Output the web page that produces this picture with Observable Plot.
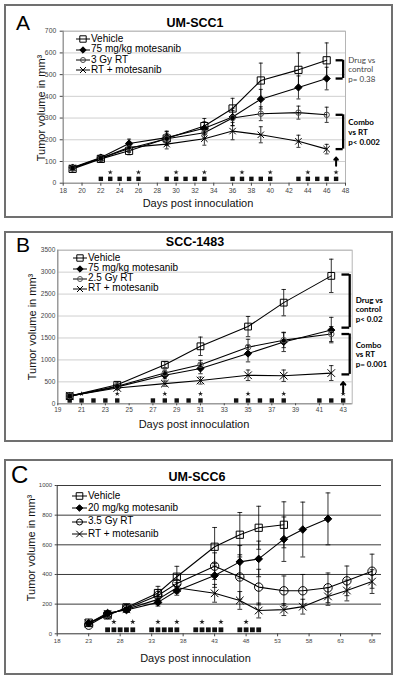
<!DOCTYPE html>
<html><head><meta charset="utf-8">
<script src="https://cdn.jsdelivr.net/npm/d3@7"></script>
<script src="https://cdn.jsdelivr.net/npm/@observablehq/plot@0.6"></script>
<style>
body{margin:0;background:#fff;}
#root{position:relative;width:400px;height:680px;overflow:hidden;font-family:"Liberation Sans",Arial,sans-serif;color:#000;}
.box{position:absolute;border:2px solid #707070;box-sizing:border-box;}
.chart{position:absolute;left:0;}
.letter{position:absolute;line-height:1;font-weight:normal;}
.title{position:absolute;font-weight:bold;font-size:12.5px;line-height:1;transform:translate(-50%,-50%);white-space:nowrap;}
.axt{position:absolute;font-size:11px;line-height:1;white-space:nowrap;color:#111;}
.lrow{position:absolute;font-size:10px;line-height:10px;white-space:nowrap;}
.lsym{position:absolute;}
</style></head>
<body><div id="root"></div>
<script>
// ---------- Panel A: UM-SCC1 ----------
const titleA = "UM-SCC1";
const legendA = ["Vehicle", "75 mg/kg motesanib", "3 Gy RT", "RT + motesanib"];
const daysA = [19, 22, 25, 29, 33, 36, 39, 43, 46];
const vehicleA = [66, 112, 149, 206, 263, 344, 473, 522, 566];
const vehicleErrA = [10, 15, 18, 32, 35, 47, 80, 78, 80];
const motesanibA = [72, 118, 183, 210, 253, 305, 387, 441, 482];
const motesanibErrA = [8, 12, 20, 30, 30, 40, 45, 53, 52];
const rtA = [70, 115, 160, 205, 232, 300, 320, 325, 315];
const rtErrA = [8, 12, 18, 25, 25, 35, 32, 30, 35];
const comboA = [70, 115, 165, 180, 205, 240, 223, 193, 157];
const comboErrA = [8, 12, 18, 22, 30, 40, 37, 28, 22];
const dosingDaysA = [22, 23, 24, 25, 26, 29, 30, 31, 32, 33, 36, 37, 38, 39, 40, 43, 44, 45, 46, 47];
const irradDaysA = [23, 26, 30, 33, 37, 40, 44, 47];
const xTicksA = [18, 20, 22, 24, 26, 28, 30, 32, 34, 36, 38, 40, 42, 44, 46, 48];
const yTicksA = [0, 100, 200, 300, 400, 500, 600, 700];
const notesA = ["Drug vs\ncontrol\np= 0.38", "Combo\nvs RT\np< 0.002"];

// ---------- Panel B: SCC-1483 ----------
const titleB = "SCC-1483";
const legendB = ["Vehicle", "75 mg/kg motesanib", "2.5 Gy RT", "RT + motesanib"];
const daysB = [20, 24, 28, 31, 35, 38, 42];
const vehicleB = [175, 433, 890, 1310, 1760, 2305, 2915];
const vehicleErrB = [40, 60, 70, 210, 230, 300, 380];
const motesanibB = [175, 385, 650, 805, 1145, 1410, 1680];
const motesanibErrB = [40, 50, 80, 120, 190, 220, 290];
const rtB = [175, 400, 700, 890, 1290, 1450, 1590];
const rtErrB = [40, 50, 70, 100, 180, 170, 170];
const comboB = [180, 360, 460, 530, 650, 640, 700];
const comboErrB = [30, 40, 60, 80, 120, 130, 170];
const dosingDaysB = [20, 21, 22, 23, 24, 27, 28, 29, 30, 31, 34, 35, 36, 37, 38, 41, 42, 43];
const irradDaysB = [21, 24, 28, 31, 35, 38, 43];
const xTicksB = [19, 21, 23, 25, 27, 29, 31, 33, 35, 37, 39, 41, 43];
const yTicksB = [0, 500, 1000, 1500, 2000, 2500, 3000, 3500];
const notesB = ["Drug vs\ncontrol\np< 0.02", "Combo\nvs RT\np= 0.001"];

// ---------- Panel C: UM-SCC6 ----------
const titleC = "UM-SCC6";
const legendC = ["Vehicle", "20 mg/kg motesanib", "3.5 Gy RT", "RT + motesanib"];
const vehicleDaysC = [23, 26, 29, 34, 37, 43, 47, 50, 54];
const vehicleC = [75, 124, 178, 275, 385, 587, 668, 715, 735];
const vehicleErrC = [10, 15, 20, 45, 70, 130, 150, 145, 155];
const motesanibDaysC = [23, 26, 29, 34, 37, 43, 47, 50, 54, 57, 61];
const motesanibC = [72, 140, 160, 212, 290, 393, 485, 505, 638, 703, 775];
const motesanibErrC = [10, 15, 15, 25, 30, 80, 110, 120, 150, 185, 175];
const rtDaysC = [23, 26, 29, 34, 37, 43, 47, 50, 54, 57, 61, 64, 68];
const rtC = [58, 130, 170, 258, 340, 456, 383, 315, 290, 290, 310, 357, 422];
const rtErrC = [10, 15, 20, 40, 60, 90, 150, 120, 100, 110, 100, 100, 115];
const comboDaysC = [23, 26, 29, 34, 37, 43, 47, 50, 54, 57, 61, 64, 68];
const comboC = [70, 135, 165, 232, 310, 273, 225, 157, 163, 183, 252, 292, 352];
const comboErrC = [10, 15, 15, 30, 35, 60, 60, 50, 40, 50, 60, 70, 80];
const dosingDaysC = [26, 27, 28, 29, 30, 33, 34, 35, 36, 37, 40, 41, 42, 43, 44, 47, 48, 49, 50];
const irradDaysC = [27, 30, 34, 37, 41, 44, 48];
const xTicksC = [18, 23, 28, 33, 38, 43, 48, 53, 58, 63, 68];
const yTicksC = [0, 200, 400, 600, 800, 1000];

const xLabel = "Days post innoculation";
const yLabel = "Tumor volume in mm³";

// ---------- symbols ----------
const sym = (f) => ({draw(ctx, size) { f(ctx, Math.sqrt(size / Math.PI)); }});
const SQUARE = sym((c, r) => { c.moveTo(-r, -r); c.lineTo(r, -r); c.lineTo(r, r); c.lineTo(-r, r); c.closePath(); });
const DIAMOND = sym((c, r) => { c.moveTo(0, -r); c.lineTo(r, 0); c.lineTo(0, r); c.lineTo(-r, 0); c.closePath(); });
const CIRCLE = sym((c, r) => { c.moveTo(r, 0); c.arc(0, 0, r, 0, 2 * Math.PI); });
const TIMES = sym((c, r) => { c.moveTo(-r, -r); c.lineTo(r, r); c.moveTo(-r, r); c.lineTo(r, -r); });
const CAP = sym((c, r) => { c.moveTo(-r, 0); c.lineTo(r, 0); });

const rows = (days, vals, errs) => days.map((d, i) => ({day: d, value: vals[i], err: errs[i]}));

const root = document.getElementById("root");
function el(tag, cls, style, text) {
  const e = document.createElement(tag);
  if (cls) e.className = cls;
  Object.assign(e.style, style || {});
  if (text != null) e.textContent = text;
  root.appendChild(e);
  return e;
}

function makeChart(p) {
  const marks = [];
  marks.push(Plot.gridY(p.yTicks.filter(v => v > 0), {stroke: p.gridColor, strokeOpacity: 1, strokeWidth: 1}));
  if (p.frameColor) marks.push(Plot.frame({stroke: p.frameColor}));
  marks.push(Plot.ruleX([p.xDomain[0]], {stroke: p.axisColor}));
  marks.push(Plot.ruleY([0], {stroke: p.axisColor}));
  marks.push(Plot.axisX({ticks: p.xTicks, tickSize: p.xTickSize, tickPadding: p.xTickPad, fontSize: p.tickFont, tickFormat: d => String(d), label: null, color: "#444"}));
  marks.push(Plot.axisY({ticks: p.yTicks, tickSize: p.yTickSize, tickPadding: p.yTickPad, fontSize: p.tickFont, tickFormat: d => String(d), label: null, color: "#444"}));
  // treatment schedule
  marks.push(Plot.dot(p.dosing.map(d => ({day: d, v: p.dosingLevel})), {x: "day", y: "v", symbol: SQUARE, r: p.doseR, fill: "#111", stroke: "none"}));
  marks.push(Plot.dot(p.irrad.map(d => ({day: d, v: p.irradLevel})), {x: "day", y: "v", symbol: "star", r: p.starR, fill: "#222", stroke: "none"}));
  // series
  for (const s of p.series) {
    marks.push(Plot.ruleX(s.rows, {x: "day", y1: d => d.value - d.err, y2: d => d.value + d.err, stroke: "#000", strokeWidth: 0.8}));
    marks.push(Plot.dot(s.rows, {x: "day", y: d => d.value + d.err, symbol: CAP, r: p.capR, stroke: "#000", strokeWidth: 0.8, fill: "none"}));
    marks.push(Plot.dot(s.rows, {x: "day", y: d => d.value - d.err, symbol: CAP, r: p.capR, stroke: "#000", strokeWidth: 0.8, fill: "none"}));
    marks.push(Plot.line(s.rows, {x: "day", y: "value", stroke: "#000", strokeWidth: 1.1}));
  }
  for (const s of p.series) {
    marks.push(Plot.dot(s.rows, {x: "day", y: "value", symbol: s.symbol, r: s.r, fill: s.fill, stroke: s.stroke, strokeWidth: 1}));
  }
  // arrow
  if (p.arrow) marks.push(Plot.arrow(p.arrow, {x1: "day", x2: "day", y1: "from", y2: "to", stroke: "#000", strokeWidth: 2, headLength: 5, headAngle: 80}));
  // brackets + notes
  if (p.brackets) {
    const b = p.brackets;
    marks.push(Plot.ruleX(b, {x: d => d.x2, y1: "bottom", y2: "top", stroke: "#000", strokeWidth: 2.3}));
    marks.push(Plot.ruleY(b, {y: "top", x1: "x1", x2: "x2", stroke: "#000", strokeWidth: 2.3}));
    marks.push(Plot.ruleY(b, {y: "bottom", x1: "x1", x2: "x2", stroke: "#000", strokeWidth: 2.3}));
    for (const d of b) {
      marks.push(Plot.text([d], {x: "tx", y: q => (q.top + q.bottom) / 2, text: "note", textAnchor: "start", lineAnchor: "middle", lineHeight: 1.2, fontSize: 8, fontFamily: "Lato, 'Open Sans', sans-serif", fontWeight: d.bold ? "bold" : "normal", fill: d.color, dy: d.dy || 0}));
    }
  }

  const svg = Plot.plot({
    width: 400, height: p.height,
    marginLeft: p.m[0], marginRight: p.m[1], marginTop: p.m[2], marginBottom: p.m[3],
    x: {domain: p.xDomain},
    y: {domain: p.yDomain},
    style: {background: "none", overflow: "visible", fontFamily: "'Liberation Sans', Arial, sans-serif"},
    marks
  });
  svg.classList.add("chart");
  svg.style.top = p.top + "px";
  root.appendChild(svg);
  // axis titles (HTML text)
  el("div", "axt", {left: p.xLab[0] + "px", top: p.xLab[1] + "px", transform: "translate(-50%,-50%)"}, xLabel);
  el("div", "axt", {left: p.yLab[0] + "px", top: p.yLab[1] + "px", transform: "translate(-50%,-50%) rotate(-90deg)"}, yLabel);
}

function makeLegend(labels, series, L) {
  labels.forEach((lab, i) => {
    const y = L.ys[i];
    const w = L.x1 - L.x0;
    const ns = "http://www.w3.org/2000/svg";
    const s = document.createElementNS(ns, "svg");
    s.setAttribute("width", w + 2); s.setAttribute("height", 14);
    s.classList.add("lsym");
    s.style.left = (L.x0 - 1) + "px"; s.style.top = (y - 7) + "px";
    s.style.position = "absolute";
    const line = document.createElementNS(ns, "line");
    line.setAttribute("x1", 1); line.setAttribute("x2", w + 1); line.setAttribute("y1", 7); line.setAttribute("y2", 7);
    line.setAttribute("stroke", "#000"); line.setAttribute("stroke-width", 1);
    s.appendChild(line);
    const sr = series[i];
    const path = document.createElementNS(ns, "path");
    path.setAttribute("d", d3.symbol(sr.symbol, Math.PI * L.r[i] * L.r[i])());
    path.setAttribute("transform", `translate(${w / 2 + 1},7)`);
    path.setAttribute("fill", sr.fill);
    path.setAttribute("stroke", sr.stroke);
    s.appendChild(path);
    root.appendChild(s);
    el("div", "lrow", {left: L.tx + "px", top: (y - 5.5) + "px", fontSize: L.font + "px"}, lab);
  });
}

// panel boxes
el("div", "box", {left: "4px", top: "4px", width: "389px", height: "214px"});
el("div", "box", {left: "4px", top: "231px", width: "389px", height: "211px"});
el("div", "box", {left: "4px", top: "459px", width: "389px", height: "216px"});

// ----- A -----
const seriesA = [
  {rows: rows(daysA, vehicleA, vehicleErrA), symbol: SQUARE, r: 3.6, fill: "none", stroke: "#000"},
  {rows: rows(daysA, motesanibA, motesanibErrA), symbol: DIAMOND, r: 3.6, fill: "#000", stroke: "#000"},
  {rows: rows(daysA, rtA, rtErrA), symbol: CIRCLE, r: 2.7, fill: "none", stroke: "#444"},
  {rows: rows(daysA, comboA, comboErrA), symbol: TIMES, r: 3.2, fill: "none", stroke: "#000"}
];
const lastA = daysA[daysA.length - 1];
makeChart({
  top: 0, height: 220, m: [62.7, 55, 30.7, 37.3],
  xDomain: [18, 48], xTicks: xTicksA, yDomain: [0, 700], yTicks: yTicksA,
  gridColor: "#cfcfcf", frameColor: "#b5b5b5", axisColor: "#888",
  tickFont: 6.8, xTickSize: 3, xTickPad: 1.5, yTickSize: 3, yTickPad: 4,
  dosing: dosingDaysA, dosingLevel: 20, irrad: irradDaysA, irradLevel: 50, doseR: 2.2, starR: 1.6, capR: 2,
  series: seriesA,
  arrow: [{day: 47, from: 80, to: 118}],
  brackets: [
    {top: vehicleA[vehicleA.length - 1], bottom: motesanibA[motesanibA.length - 1], x1: lastA + 1, x2: lastA + 1.75, tx: lastA + 2.3, note: notesA[0], bold: false, color: "#444"},
    {top: rtA[rtA.length - 1], bottom: comboA[comboA.length - 1], x1: lastA + 1, x2: lastA + 1.75, tx: lastA + 2.3, note: notesA[1], bold: true, color: "#000"}
  ],
  xLab: [198, 203], yLab: [40.5, 107.5]
});
el("div", "letter", {left: "16px", top: "12px", fontSize: "21px"}, "A");
el("div", "title", {left: "195px", top: "23px"}, titleA);
makeLegend(legendA, seriesA, {x0: 76, x1: 90, tx: 91, ys: [39.3, 49.7, 60, 70.3], r: [3.2, 3.2, 2.5, 3], font: 10});

// ----- B -----
const seriesB = [
  {rows: rows(daysB, vehicleB, vehicleErrB), symbol: SQUARE, r: 3.4, fill: "none", stroke: "#000"},
  {rows: rows(daysB, motesanibB, motesanibErrB), symbol: DIAMOND, r: 3.6, fill: "#000", stroke: "#000"},
  {rows: rows(daysB, rtB, rtErrB), symbol: CIRCLE, r: 2.8, fill: "none", stroke: "#555"},
  {rows: rows(daysB, comboB, comboErrB), symbol: TIMES, r: 3.8, fill: "none", stroke: "#000"}
];
const lastB = daysB[daysB.length - 1];
makeChart({
  top: 225, height: 220, m: [57.3, 48.3, 24.7, 41.7],
  xDomain: [19, 43.76], xTicks: xTicksB, yDomain: [0, 3500], yTicks: yTicksB,
  gridColor: "#cfcfcf", frameColor: "#b5b5b5", axisColor: "#888",
  tickFont: 6.5, xTickSize: 2, xTickPad: 1.5, yTickSize: 0, yTickPad: 2.5,
  dosing: dosingDaysB, dosingLevel: 75, irrad: irradDaysB, irradLevel: 228, doseR: 2.2, starR: 1.6, capR: 2.2,
  series: seriesB,
  arrow: [{day: 43, from: 264, to: 495}],
  brackets: [
    {top: vehicleB[vehicleB.length - 1] + 30, bottom: motesanibB[motesanibB.length - 1] + 55, x1: lastB + 0.9, x2: lastB + 1.55, tx: lastB + 2.05, note: notesB[0], bold: true, color: "#000", dy: 8},
    {top: rtB[rtB.length - 1], bottom: comboB[comboB.length - 1] - 30, x1: lastB + 0.9, x2: lastB + 1.55, tx: lastB + 2.05, note: notesB[1], bold: true, color: "#000"}
  ],
  xLab: [194, 424], yLab: [32, 327]
});
el("div", "letter", {left: "16px", top: "234px", fontSize: "21px"}, "B");
el("div", "title", {left: "195px", top: "242px"}, titleB);
makeLegend(legendB, seriesB, {x0: 72.7, x1: 86.7, tx: 88, ys: [258.3, 268.7, 278.7, 288.7], r: [3.2, 3.2, 2.5, 3], font: 10});

// ----- C -----
const seriesC = [
  {rows: rows(vehicleDaysC, vehicleC, vehicleErrC), symbol: SQUARE, r: 3.6, fill: "none", stroke: "#000"},
  {rows: rows(motesanibDaysC, motesanibC, motesanibErrC), symbol: DIAMOND, r: 3.8, fill: "#000", stroke: "#000"},
  {rows: rows(rtDaysC, rtC, rtErrC), symbol: CIRCLE, r: 4.2, fill: "none", stroke: "#000"},
  {rows: rows(comboDaysC, comboC, comboErrC), symbol: TIMES, r: 3.8, fill: "none", stroke: "#000"}
];
makeChart({
  top: 455, height: 225, m: [56.7, 19, 30, 46.7],
  xDomain: [18, 69.5], xTicks: xTicksC, yDomain: [0, 1000], yTicks: yTicksC,
  gridColor: "#3a3a3a", frameColor: null, axisColor: "#333",
  tickFont: 6, xTickSize: 3, xTickPad: 2, yTickSize: 2, yTickPad: 3,
  dosing: dosingDaysC, dosingLevel: 27, irrad: irradDaysC, irradLevel: 80, doseR: 2.4, starR: 1.7, capR: 2.4,
  series: seriesC,
  arrow: null, brackets: null,
  xLab: [195.5, 657.7], yLab: [31, 547.5]
});
el("div", "letter", {left: "11px", top: "463px", fontSize: "24px"}, "C");
el("div", "title", {left: "197px", top: "477px"}, titleC);
makeLegend(legendC, seriesC, {x0: 71.7, x1: 86.7, tx: 88, ys: [496, 508.3, 521.7, 534], r: [3.3, 3.3, 3, 3.2], font: 10});
</script>
</body></html>
